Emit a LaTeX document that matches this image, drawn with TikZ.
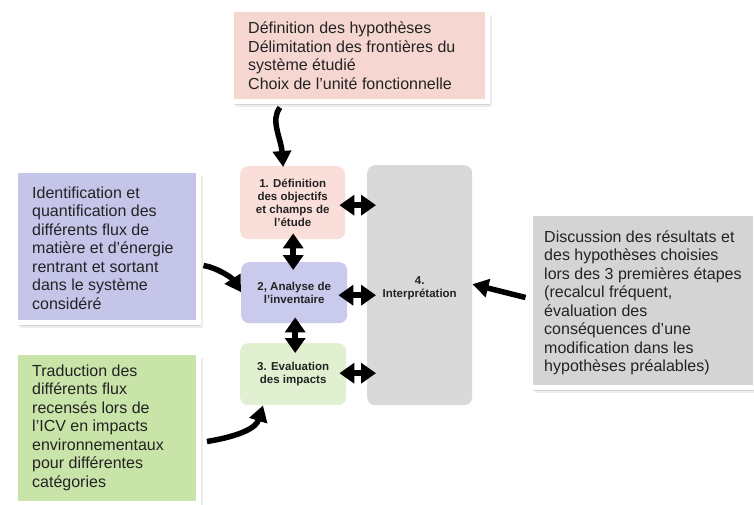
\documentclass[tikz,border=0pt]{standalone}
\usepackage{fontspec}
\setmainfont{Liberation Sans}
\usetikzlibrary{arrows.meta,shadows,calc}
\definecolor{pinkA}{RGB}{246,214,209}
\definecolor{pinkB}{RGB}{250,222,217}
\definecolor{lavA}{RGB}{197,197,234}
\definecolor{lavB}{RGB}{202,202,236}
\definecolor{greenA}{RGB}{200,228,168}
\definecolor{greenB}{RGB}{224,240,208}
\definecolor{grayA}{RGB}{212,212,212}
\definecolor{grayB}{RGB}{217,217,217}
\definecolor{txt}{RGB}{35,35,35}
\begin{document}
\begin{tikzpicture}[x=1pt,y=-1pt,
 outbox/.style={draw=white, line width=5pt, rectangle, inner sep=0pt, anchor=north west,
   drop shadow={shadow xshift=1.5pt, shadow yshift=-2pt, opacity=0.12, fill=black},
   drop shadow={shadow xshift=3pt, shadow yshift=-4pt, opacity=0.10, fill=black},
   drop shadow={shadow xshift=4.5pt, shadow yshift=-6pt, opacity=0.07, fill=black}},
 outtxt/.style={anchor=west, align=left, inner sep=0pt, text=txt, font=\fontsize{16}{18.5}\selectfont},
 stage/.style={rectangle, rounded corners=8pt, anchor=north west, align=center, inner sep=0pt,
   text=txt, font=\bfseries\fontsize{11.5}{13}\selectfont},
 stagetxt/.style={align=center, inner sep=0pt, text=txt, font=\bfseries\fontsize{11.5}{13}\selectfont},
 dbl/.style={line width=6pt, {Triangle[width=20pt,length=15pt]}-{Triangle[width=20pt,length=15pt]}},
 curv/.style={line width=5.5pt, -{Triangle[width=18pt,length=16pt]}}]
\useasboundingbox (0,0) rectangle (754,504);
\fill[white] (0,0) rectangle (754,504);

% outer boxes
\node[outbox, fill=pinkA, minimum width=256pt, minimum height=92pt] (top) at (228.5,6.5) {};
\node[outtxt] (toptxt) at ($(top.west)+(19.5,0.5)$) {Définition des hypothèses\\Délimitation des frontières du\\système étudié\\Choix de l’unité fonctionnelle};

\node[outbox, fill=lavA, minimum width=183pt, minimum height=152pt] (idbox) at (12.5,167.5) {};
\node[outtxt] (idtxt) at ($(idbox.west)+(19.5,2)$) {Identification et\\quantification des\\différents flux de\\matière et d’énergie\\rentrant et sortant\\dans le système\\considéré};

\node[outbox, fill=greenA, minimum width=183pt, minimum height=151pt] (trbox) at (12.5,349.5) {};
\node[outtxt] (trtxt) at ($(trbox.west)+(19.5,0)$) {Traduction des\\différents flux\\recensés lors de\\l’ICV en impacts\\environnementaux\\pour différentes\\catégories};

\node[outbox, fill=grayA, minimum width=225pt, minimum height=174pt] (disc) at (527.5,210.5) {};
\node[outtxt] (disctxt) at ($(disc.west)+(16.5,3)$) {Discussion des résultats et\\des hypothèses choisies\\lors des 3 premières étapes\\(recalcul fréquent,\\évaluation des\\conséquences d’une\\modification dans les\\hypothèses préalables)};

% stages
\node[stage, fill=pinkB, minimum width=105pt, minimum height=73pt] (s1) at (240,166) {1. Définition\\des objectifs\\et champs de\\l’étude};
\node[stage, fill=lavB, minimum width=106pt, minimum height=61pt] (s2) at (241,262) {2, Analyse de\\l’inventaire};
\node[stage, fill=greenB, minimum width=106pt, minimum height=62pt] (s3) at (240,343) {3. Evaluation\\des impacts};
\node[stage, fill=grayB, minimum width=105pt, minimum height=240pt] (s4) at (367,165) {};
\node[stagetxt] (s4txt) at ($(s4.center)+(0,3)$) {4.\\Interprétation};

% double arrows
\draw[dbl] ($(s1.east)+(-6,2.5)$) -- ($(s4.west |- s1.east)+(9,2.5)$);
\draw[dbl] ($(s2.east)+(-9,2.5)$) -- ($(s4.west |- s2.east)+(9,2.5)$);
\draw[dbl] ($(s3.east)+(-7,-1)$) -- ($(s4.west |- s3.east)+(9,-1)$);
\draw[dbl] ($(s1.south)+(0.5,-6)$) -- ($(s2.north)+(-1,8)$);
\draw[dbl] ($(s2.south)+(1,-6)$) -- ($(s3.north)+(2,10)$);

% curved arrows
\coordinate (tA) at ($(top.south west)+(51.5,4)$);
\coordinate (tB) at ($(s1.north)+(-9.5,1)$);
\draw[curv] (tA) .. controls (270,120) and (281,138) .. (tB);
\coordinate (lA) at ($(idbox.east)+(3,19.5)$);
\coordinate (lB) at ($(s2.west)+(0,-0.5)$);
\draw[curv] (lA) .. controls (218,268) and (232,278) .. (lB);
\coordinate (gA) at ($(trbox.east)+(6.5,14)$);
\coordinate (gB) at ($(s3.south west)+(23,0)$);
\draw[curv] (gA) .. controls (240,436) and (256,428) .. (gB);
\coordinate (dA) at ($(disc.west)+(-2,-2.5)$);
\coordinate (dB) at ($(s4.east)+(0,-1)$);
\draw[curv] (dA) -- (dB);
\end{tikzpicture}
\end{document}
